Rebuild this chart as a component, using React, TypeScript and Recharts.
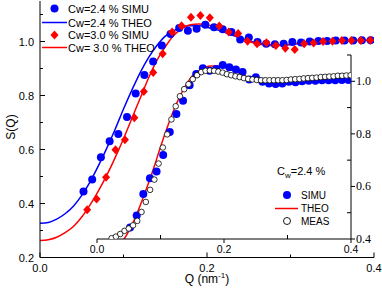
import React from 'react';
import { ComposedChart, Line, Scatter, XAxis, YAxis } from 'recharts';

// Cw = 2.4 % simulation (also shown in the inset)
const simu24Q = [
  0.0521, 0.0625, 0.0729, 0.0834, 0.0938, 0.1042, 0.1146, 0.125, 0.1355, 0.1459,
  0.1563, 0.1667, 0.1771, 0.1876, 0.198, 0.2084, 0.2188, 0.2292, 0.2397, 0.2501,
  0.2605, 0.2709, 0.2813, 0.2918, 0.3022, 0.3126, 0.323, 0.3334, 0.3439, 0.3543,
  0.3647, 0.3751, 0.3855, 0.396,
];
const simu24S = [
  0.444, 0.489, 0.571, 0.631, 0.657, 0.72, 0.807, 0.876, 0.926, 0.985,
  1.028, 1.05, 1.04, 1.047, 1.062, 1.053, 1.045, 1.035, 1.007, 1.015,
  0.998, 0.992, 0.99, 0.992, 0.998, 0.996, 1.0, 1.002, 1.002, 1.004,
  1.004, 1.004, 1.005, 1.005,
];

// Cw = 3.0 % simulation
const simu30Q = [
  0.0565, 0.0678, 0.0791, 0.0904, 0.1017, 0.113, 0.1243, 0.1356, 0.1469, 0.1582,
  0.1695, 0.1808, 0.1921, 0.2034, 0.2147, 0.226, 0.2373, 0.2486, 0.2599, 0.2712,
  0.2825, 0.2938, 0.3051, 0.3164, 0.3277, 0.339, 0.3503, 0.3616, 0.3729, 0.3842,
  0.3955,
];
const simu30S = [
  0.377, 0.417, 0.497, 0.599, 0.636, 0.718, 0.815, 0.885, 0.955, 1.035,
  1.058, 1.09, 1.096, 1.088, 1.057, 1.035, 1.03, 1.001, 0.992, 0.995,
  0.985, 0.975, 0.97, 0.992, 0.994, 1.0, 1.001, 1.004, 1.004, 1.004,
  1.005,
];

// theory curves
const theoQ = [
  0, 0.01, 0.02, 0.03, 0.04, 0.05, 0.06, 0.07, 0.08, 0.09,
  0.1, 0.11, 0.12, 0.13, 0.14, 0.15, 0.16, 0.17, 0.18, 0.19,
  0.2, 0.21, 0.22, 0.23, 0.24, 0.25, 0.26, 0.27, 0.28, 0.29,
  0.3, 0.32, 0.34, 0.36, 0.38, 0.4,
];
const theo24S = [
  0.327, 0.33, 0.342, 0.362, 0.39, 0.43, 0.48, 0.54, 0.605, 0.675,
  0.75, 0.82, 0.885, 0.94, 0.985, 1.02, 1.04, 1.053, 1.058, 1.058,
  1.053, 1.045, 1.035, 1.024, 1.013, 1.003, 0.995, 0.99, 0.987, 0.987,
  0.989, 0.995, 1.0, 1.003, 1.004, 1.004,
];
const theo30S = [
  0.263, 0.266, 0.275, 0.292, 0.315, 0.35, 0.395, 0.447, 0.505, 0.57,
  0.64, 0.715, 0.79, 0.865, 0.93, 0.98, 1.022, 1.048, 1.062, 1.065,
  1.062, 1.053, 1.04, 1.027, 1.013, 1.0, 0.992, 0.987, 0.985, 0.986,
  0.99, 0.997, 1.002, 1.004, 1.005, 1.005,
];

// measured, inset
const measQ = [
  0.0231, 0.0298, 0.0366, 0.0433, 0.05, 0.0567, 0.0634, 0.0701, 0.0769, 0.0836,
  0.0903, 0.097, 0.1037, 0.1105, 0.1172, 0.1239, 0.1306, 0.1373, 0.1441, 0.1508,
  0.1575, 0.1642, 0.1709, 0.1777, 0.1844, 0.1911, 0.1978, 0.2045, 0.2113, 0.218,
  0.2247, 0.2314, 0.2381, 0.2449, 0.2516, 0.2583, 0.265, 0.2717, 0.2785, 0.2852,
  0.2919, 0.2986, 0.3053, 0.3121, 0.3188, 0.3255, 0.3322, 0.3389, 0.3457, 0.3524,
  0.3591, 0.3658, 0.3725, 0.3793, 0.386, 0.3927, 0.3994,
];
const measS = [
  0.403, 0.409, 0.419, 0.431, 0.44, 0.452, 0.469, 0.503, 0.541, 0.587,
  0.626, 0.687, 0.748, 0.798, 0.855, 0.905, 0.943, 0.97, 0.989, 1.008,
  1.023, 1.035, 1.04, 1.041, 1.04, 1.037, 1.033, 1.027, 1.023, 1.019,
  1.016, 1.012, 1.009, 1.007, 1.005, 1.004, 1.004, 1.004, 1.004, 1.004,
  1.004, 1.005, 1.007, 1.008, 1.009, 1.011, 1.012, 1.013, 1.014, 1.016,
  1.017, 1.018, 1.019, 1.021, 1.021, 1.022, 1.023,
];

const qTicks = [0, 0.1, 0.2, 0.3, 0.4];
const mainSTicks = [0.2, 0.3, 0.4, 0.5, 0.6, 0.7, 0.8, 0.9, 1.0, 1.1];
const insetSTicks = [0.4, 0.5, 0.6, 0.7, 0.8, 0.9, 1.0, 1.1];

const zip = (qs: number[], ss: number[]) => qs.map((q, i) => ({ q, s: ss[i] }));
const simu24 = zip(simu24Q, simu24S);
const simu30 = zip(simu30Q, simu30S);
const theo24 = zip(theoQ, theo24S);
const theo30 = zip(theoQ, theo30S);
const meas = zip(measQ, measS);

const SANS = '"Liberation Sans", Arial, sans-serif';
const SERIF = '"Liberation Serif", "Times New Roman", serif';
const BLUE = '#0000ff';
const RED = '#ff0000';

const isMajor = (v: number) => Math.round(v * 10) % 2 === 0;

// main frame ticks all point inwards
function MainBottomTick({ x, y, payload }: any) {
  const major = isMajor(payload.value);
  return (
    <g>
      <line x1={x} y1={y} x2={x} y2={y - (major ? 5 : 3)} stroke="#000" />
      {major && (
        <text x={x} y={y + 14} textAnchor="middle" fontSize={11} fontFamily={SANS} fill="#000">
          {payload.value.toFixed(1)}
        </text>
      )}
    </g>
  );
}

function MainTopTick({ x, y, payload }: any) {
  const major = isMajor(payload.value);
  return <line x1={x} y1={y} x2={x} y2={y + (major ? 5 : 3)} stroke="#000" />;
}

function MainLeftTick({ x, y, payload }: any) {
  const major = isMajor(payload.value);
  return (
    <g>
      <line x1={x} y1={y} x2={x + (major ? 5 : 3)} y2={y} stroke="#000" />
      {major && (
        <text x={x - 6} y={y + 4} textAnchor="end" fontSize={11} fontFamily={SANS} fill="#000">
          {payload.value.toFixed(1)}
        </text>
      )}
    </g>
  );
}

function MainRightTick({ x, y, payload }: any) {
  const major = isMajor(payload.value);
  return <line x1={x} y1={y} x2={x - (major ? 5 : 3)} y2={y} stroke="#000" />;
}

// inset: majors out, minors in
function InsetBottomTick({ x, y, payload }: any) {
  const major = isMajor(payload.value);
  return (
    <g>
      <line x1={x} y1={y} x2={x} y2={major ? y + 4 : y - 4} stroke="#000" />
      {major && (
        <text x={x} y={y + 14} textAnchor="middle" fontSize={10.5} fontFamily={SANS} fill="#000">
          {payload.value.toFixed(1)}
        </text>
      )}
    </g>
  );
}

function InsetRightTick({ x, y, payload }: any) {
  const major = isMajor(payload.value);
  return (
    <g>
      <line x1={x} y1={y} x2={major ? x + 4 : x - 4} y2={y} stroke="#000" />
      {major && (
        <text x={x + 5} y={y + 4} textAnchor="start" fontSize={12} fontFamily={SERIF} fill="#000">
          {payload.value.toFixed(1)}
        </text>
      )}
    </g>
  );
}

const blueDot = (p: any) => <circle cx={p.cx} cy={p.cy} r={4} fill={BLUE} />;
const redDiamond = (p: any) => (
  <polygon
    points={`${p.cx},${p.cy - 4.5} ${p.cx + 4},${p.cy} ${p.cx},${p.cy + 4.5} ${p.cx - 4},${p.cy}`}
    fill={RED}
  />
);
const openDot = (p: any) => (
  <circle cx={p.cx} cy={p.cy} r={2.8} fill="#fff" stroke="#000" strokeWidth={0.8} />
);

const axisLine = { stroke: '#000', strokeWidth: 1 };

function MainChart() {
  return (
    <ComposedChart width={382} height={288} margin={{ top: 1, right: 8, bottom: 0, left: 0 }}>
      <XAxis
        xAxisId="main"
        dataKey="q"
        type="number"
        domain={[0, 0.4]}
        allowDataOverflow
        ticks={qTicks}
        interval={0}
        height={30.5}
        tickSize={0}
        tickMargin={0}
        tickLine={false}
        axisLine={axisLine}
        tick={<MainBottomTick />}
      />
      <XAxis
        xAxisId="top"
        orientation="top"
        type="number"
        domain={[0, 0.4]}
        allowDataOverflow
        ticks={qTicks}
        interval={0}
        height={0}
        tickSize={0}
        tickMargin={0}
        tickLine={false}
        axisLine={axisLine}
        tick={<MainTopTick />}
      />
      <YAxis
        yAxisId="main"
        type="number"
        domain={[0.2, 1.15]}
        allowDataOverflow
        ticks={mainSTicks}
        interval={0}
        width={40}
        tickSize={0}
        tickMargin={0}
        tickLine={false}
        axisLine={axisLine}
        tick={<MainLeftTick />}
      />
      <YAxis
        yAxisId="right"
        orientation="right"
        type="number"
        domain={[0.2, 1.15]}
        allowDataOverflow
        ticks={mainSTicks}
        interval={0}
        width={0}
        tickSize={0}
        tickMargin={0}
        tickLine={false}
        axisLine={axisLine}
        tick={<MainRightTick />}
      />
      <Scatter xAxisId="main" yAxisId="main" data={simu24} dataKey="s" shape={blueDot} isAnimationActive={false} />
      <Line
        xAxisId="main"
        yAxisId="main"
        data={theo24}
        dataKey="s"
        type="monotone"
        stroke={BLUE}
        strokeWidth={1.5}
        dot={false}
        isAnimationActive={false}
      />
      <Scatter xAxisId="main" yAxisId="main" data={simu30} dataKey="s" shape={redDiamond} isAnimationActive={false} />
      <Line
        xAxisId="main"
        yAxisId="main"
        data={theo30}
        dataKey="s"
        type="monotone"
        stroke={RED}
        strokeWidth={1.5}
        dot={false}
        isAnimationActive={false}
      />
    </ComposedChart>
  );
}

function InsetChart() {
  return (
    <ComposedChart width={292} height={210} margin={{ top: 5, right: 0, bottom: 0, left: 7 }}>
      <XAxis
        xAxisId="inset"
        dataKey="q"
        type="number"
        domain={[0, 0.4]}
        allowDataOverflow
        ticks={qTicks}
        interval={0}
        height={21}
        tickSize={0}
        tickMargin={0}
        tickLine={false}
        axisLine={axisLine}
        tick={<InsetBottomTick />}
      />
      <YAxis
        yAxisId="inset"
        orientation="right"
        type="number"
        domain={[0.4, 1.1]}
        allowDataOverflow
        ticks={insetSTicks}
        interval={0}
        width={31}
        tickSize={0}
        tickMargin={0}
        tickLine={false}
        axisLine={axisLine}
        tick={<InsetRightTick />}
      />
      <Scatter xAxisId="inset" yAxisId="inset" data={simu24} dataKey="s" shape={blueDot} isAnimationActive={false} />
      <Line
        xAxisId="inset"
        yAxisId="inset"
        data={theo24}
        dataKey="s"
        type="monotone"
        stroke={RED}
        strokeWidth={1.5}
        dot={false}
        isAnimationActive={false}
      />
      <Scatter xAxisId="inset" yAxisId="inset" data={meas} dataKey="s" shape={openDot} isAnimationActive={false} />
    </ComposedChart>
  );
}

function Labels() {
  const t = { fontFamily: SANS, fontSize: 11, fill: '#000' };
  return (
    <svg width={382} height={288} style={{ position: 'absolute', left: 0, top: 0, pointerEvents: 'none' }}>
      {/* main legend */}
      <circle cx={54.5} cy={8.5} r={4} fill={BLUE} />
      <text x={68} y={12.5} {...t}>Cw=2.4 % SIMU</text>
      <line x1={42} x2={67} y1={22.5} y2={22.5} stroke={BLUE} strokeWidth={1.5} />
      <text x={68} y={26.5} {...t}>Cw=2.4 % THEO</text>
      <polygon points="54.5,30.5 58.5,35 54.5,39.5 50.5,35" fill={RED} />
      <text x={68} y={39.3} {...t}>Cw=3.0 % SIMU</text>
      <line x1={42} x2={67} y1={47.5} y2={47.5} stroke={RED} strokeWidth={1.5} />
      <text x={68} y={51.7} {...t}>Cw= 3.0 % THEO</text>

      {/* inset legend */}
      <text x={277} y={175} {...t}>
        C<tspan fontSize={8} dy={3}>w</tspan>
        <tspan dy={-3}>=2.4 %</tspan>
      </text>
      <circle cx={287} cy={195} r={4} fill={BLUE} />
      <text x={301} y={198.5} {...t} fontSize={10}>SIMU</text>
      <line x1={275} x2={298} y1={208.5} y2={208.5} stroke={RED} strokeWidth={1.5} />
      <text x={301} y={212} {...t} fontSize={10}>THEO</text>
      <circle cx={287} cy={221} r={3.5} fill="#fff" stroke="#000" strokeWidth={0.9} />
      <text x={301} y={224.8} {...t} fontSize={10}>MEAS</text>

      {/* axis titles */}
      <text x={15} y={127} {...t} fontSize={12} textAnchor="middle" transform="rotate(-90 15 127)">S(Q)</text>
      <text x={207} y={283} {...t} fontSize={12} textAnchor="middle">
        Q (nm<tspan fontSize={8} dy={-5}>-1</tspan>
        <tspan dy={5}>)</tspan>
      </text>
    </svg>
  );
}

export default function App() {
  return (
    <div style={{ position: 'absolute', left: 0, top: 0, width: 382, height: 288, background: '#fff' }}>
      <MainChart />
      <div style={{ position: 'absolute', left: 90, top: 50 }}>
        <InsetChart />
      </div>
      <Labels />
    </div>
  );
}
